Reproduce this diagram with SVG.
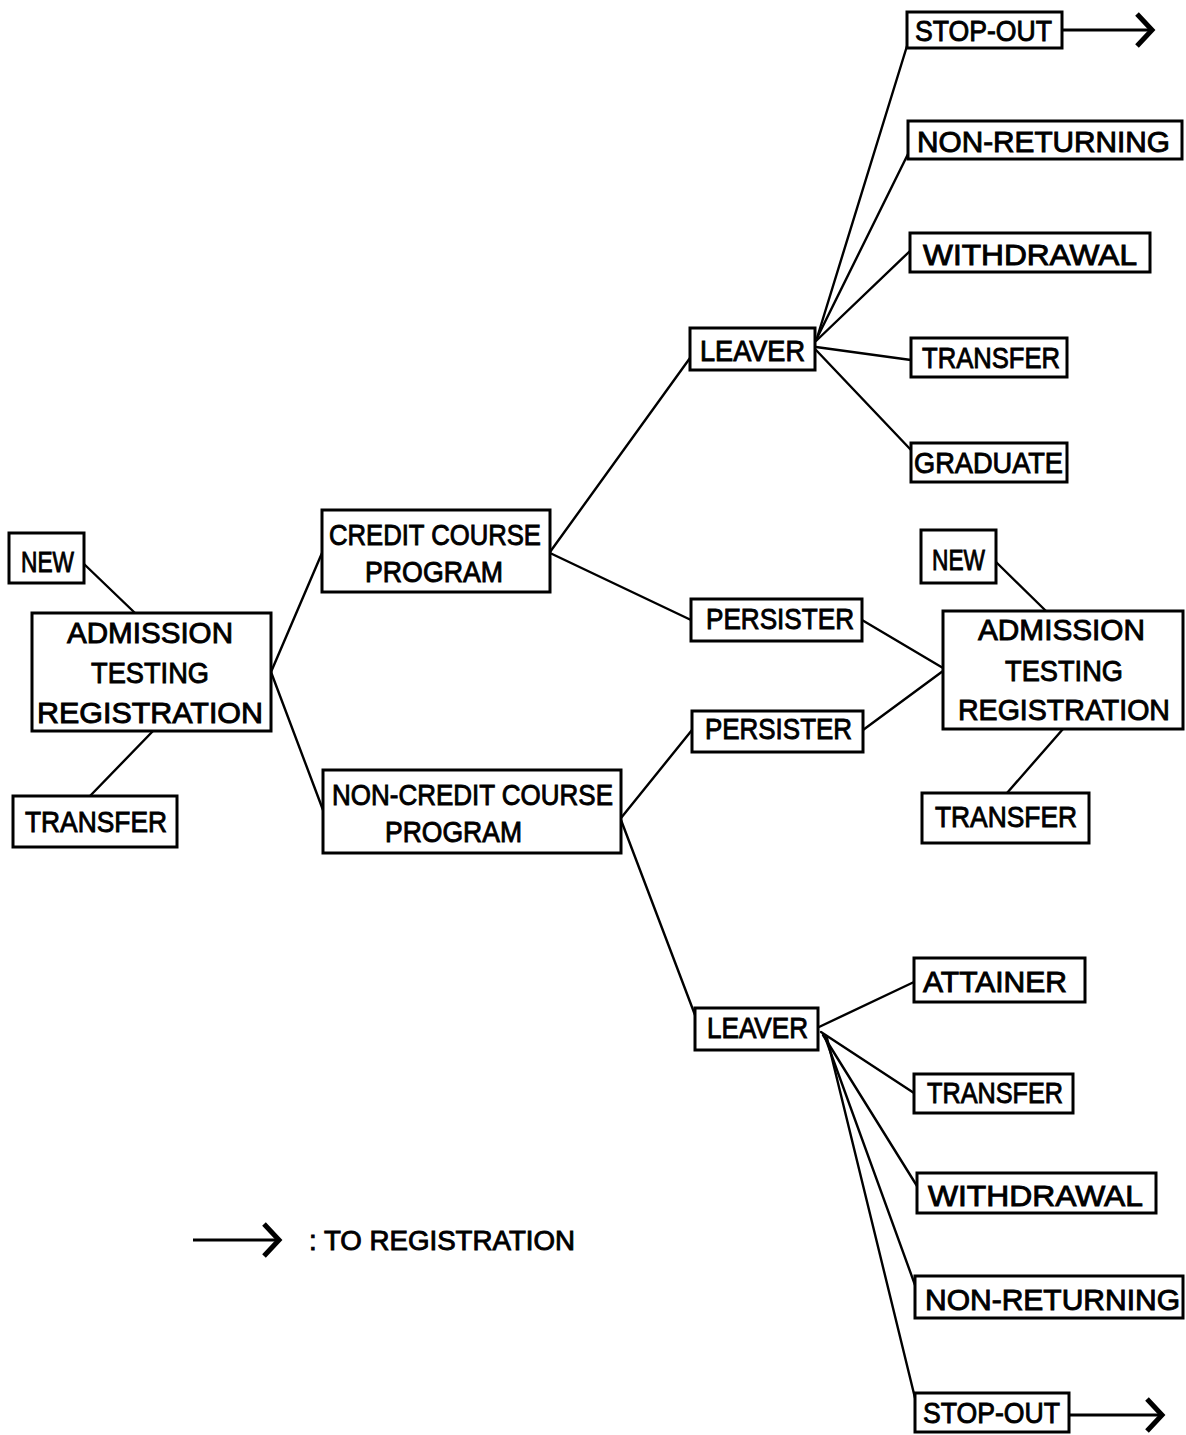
<svg xmlns="http://www.w3.org/2000/svg" width="1186" height="1435" viewBox="0 0 1186 1435">
<style>
.box{fill:#fff;stroke:#000;stroke-width:3}
.t{font-family:"Liberation Sans","DejaVu Sans",sans-serif;font-size:29px;fill:#000;stroke:#000;stroke-width:0.9}
.c{fill:none;stroke:#000;stroke-width:2.4;stroke-linecap:round}
.a{fill:none;stroke:#000;stroke-width:3}
</style>
<defs>
<marker id="chev" markerUnits="userSpaceOnUse" markerWidth="26" markerHeight="42" refX="18" refY="18" orient="auto">
<path d="M3,2 L18,18 L3,34" fill="none" stroke="#000" stroke-width="5" stroke-linejoin="miter"/>
</marker>
</defs>
<rect width="1186" height="1435" fill="#fff"/>
<g id="connectors">
<line class="c" x1="84" y1="564" x2="135" y2="613"/>
<line class="c" x1="153" y1="731" x2="90" y2="796"/>
<line class="c" x1="271" y1="672" x2="322" y2="553"/>
<line class="c" x1="271" y1="672" x2="323" y2="810"/>
<line class="c" x1="550" y1="552" x2="690" y2="358"/>
<line class="c" x1="550" y1="553" x2="691" y2="620"/>
<line class="c" x1="621" y1="818" x2="692" y2="730"/>
<line class="c" x1="621" y1="820" x2="695" y2="1015"/>
<line class="c" x1="817" y1="338" x2="907" y2="46"/>
<line class="c" x1="818" y1="336" x2="908" y2="154"/>
<line class="c" x1="816" y1="341" x2="910" y2="251"/>
<line class="c" x1="816" y1="347" x2="911" y2="360"/>
<line class="c" x1="816" y1="350" x2="911" y2="450"/>
<line class="c" x1="862" y1="620" x2="943" y2="668"/>
<line class="c" x1="863" y1="730" x2="943" y2="671"/>
<line class="c" x1="996" y1="562" x2="1046" y2="611"/>
<line class="c" x1="1063" y1="729" x2="1007" y2="793"/>
<line class="c" x1="819" y1="1027" x2="914" y2="982"/>
<line class="c" x1="821" y1="1032" x2="914" y2="1093"/>
<line class="c" x1="823" y1="1035" x2="917" y2="1186"/>
<line class="c" x1="825" y1="1037" x2="915" y2="1285"/>
<line class="c" x1="827" y1="1038" x2="915" y2="1398"/>
<line class="a" x1="1062" y1="30" x2="1152" y2="30" marker-end="url(#chev)"/>
<line class="a" x1="1069" y1="1415" x2="1162" y2="1415" marker-end="url(#chev)"/>
</g>
<g id="new-left"><rect class="box" x="9" y="533" width="75" height="50"/><text class="t" x="21" y="572" textLength="53" lengthAdjust="spacingAndGlyphs">NEW</text></g>
<g id="admission-left"><rect class="box" x="32" y="613" width="239" height="118"/>
<text class="t" x="67" y="643" textLength="166" lengthAdjust="spacingAndGlyphs">ADMISSION</text>
<text class="t" x="91" y="683" textLength="118" lengthAdjust="spacingAndGlyphs">TESTING</text>
<text class="t" x="37" y="723" textLength="226" lengthAdjust="spacingAndGlyphs">REGISTRATION</text></g>
<g id="transfer-left"><rect class="box" x="13" y="796" width="164" height="51"/><text class="t" x="25" y="832" textLength="142" lengthAdjust="spacingAndGlyphs">TRANSFER</text></g>
<g id="credit"><rect class="box" x="322" y="510" width="228" height="82"/>
<text class="t" x="329" y="545" textLength="212" lengthAdjust="spacingAndGlyphs">CREDIT COURSE</text>
<text class="t" x="365" y="582" textLength="138" lengthAdjust="spacingAndGlyphs">PROGRAM</text></g>
<g id="noncredit"><rect class="box" x="323" y="770" width="298" height="83"/>
<text class="t" x="332" y="805" textLength="281" lengthAdjust="spacingAndGlyphs">NON-CREDIT COURSE</text>
<text class="t" x="385" y="842" textLength="137" lengthAdjust="spacingAndGlyphs">PROGRAM</text></g>
<g id="leaver-credit"><rect class="box" x="690" y="328" width="125" height="42"/><text class="t" x="700" y="361" textLength="105" lengthAdjust="spacingAndGlyphs">LEAVER</text></g>
<g id="persister-credit"><rect class="box" x="691" y="599" width="171" height="42"/><text class="t" x="706" y="629" textLength="148" lengthAdjust="spacingAndGlyphs">PERSISTER</text></g>
<g id="persister-noncredit"><rect class="box" x="692" y="711" width="171" height="41"/><text class="t" x="705" y="739" textLength="147" lengthAdjust="spacingAndGlyphs">PERSISTER</text></g>
<g id="leaver-noncredit"><rect class="box" x="695" y="1008" width="123" height="42"/><text class="t" x="707" y="1038" textLength="101" lengthAdjust="spacingAndGlyphs">LEAVER</text></g>
<g id="stopout-top"><rect class="box" x="907" y="12" width="155" height="36"/><text class="t" x="915" y="41" textLength="137" lengthAdjust="spacingAndGlyphs">STOP-OUT</text></g>
<g id="nonreturning-top"><rect class="box" x="908" y="121" width="274" height="38"/><text class="t" x="917" y="152" textLength="253" lengthAdjust="spacingAndGlyphs">NON-RETURNING</text></g>
<g id="withdrawal-top"><rect class="box" x="910" y="233" width="240" height="39"/><text class="t" x="923" y="265" textLength="214" lengthAdjust="spacingAndGlyphs">WITHDRAWAL</text></g>
<g id="transfer-top"><rect class="box" x="911" y="338" width="156" height="39"/><text class="t" x="922" y="368" textLength="138" lengthAdjust="spacingAndGlyphs">TRANSFER</text></g>
<g id="graduate"><rect class="box" x="911" y="443" width="156" height="39"/><text class="t" x="914" y="473" textLength="149" lengthAdjust="spacingAndGlyphs">GRADUATE</text></g>
<g id="new-right"><rect class="box" x="921" y="530" width="75" height="53"/><text class="t" x="932" y="570" textLength="53" lengthAdjust="spacingAndGlyphs">NEW</text></g>
<g id="admission-right"><rect class="box" x="943" y="611" width="240" height="118"/>
<text class="t" x="978" y="640" textLength="167" lengthAdjust="spacingAndGlyphs">ADMISSION</text>
<text class="t" x="1005" y="681" textLength="118" lengthAdjust="spacingAndGlyphs">TESTING</text>
<text class="t" x="958" y="720" textLength="212" lengthAdjust="spacingAndGlyphs">REGISTRATION</text></g>
<g id="transfer-right"><rect class="box" x="922" y="793" width="167" height="50"/><text class="t" x="935" y="827" textLength="142" lengthAdjust="spacingAndGlyphs">TRANSFER</text></g>
<g id="attainer"><rect class="box" x="914" y="958" width="171" height="44"/><text class="t" x="923" y="992" textLength="144" lengthAdjust="spacingAndGlyphs">ATTAINER</text></g>
<g id="transfer-bottom"><rect class="box" x="914" y="1074" width="159" height="39"/><text class="t" x="927" y="1103" textLength="136" lengthAdjust="spacingAndGlyphs">TRANSFER</text></g>
<g id="withdrawal-bottom"><rect class="box" x="917" y="1173" width="239" height="40"/><text class="t" x="928" y="1206" textLength="215" lengthAdjust="spacingAndGlyphs">WITHDRAWAL</text></g>
<g id="nonreturning-bottom"><rect class="box" x="915" y="1276" width="268" height="42"/><text class="t" x="925" y="1310" textLength="255" lengthAdjust="spacingAndGlyphs">NON-RETURNING</text></g>
<g id="stopout-bottom"><rect class="box" x="915" y="1393" width="154" height="39"/><text class="t" x="923" y="1423" textLength="137" lengthAdjust="spacingAndGlyphs">STOP-OUT</text></g>
<g id="legend">
<line class="a" x1="193" y1="1240" x2="279" y2="1240" marker-end="url(#chev)"/>
<text class="t" x="309" y="1250" textLength="266" lengthAdjust="spacingAndGlyphs" style="font-size:27px">: TO REGISTRATION</text>
</g>
</svg>
